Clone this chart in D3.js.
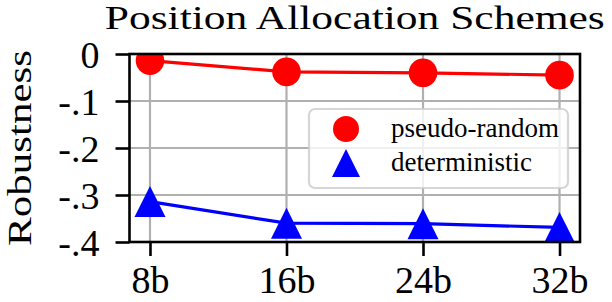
<!DOCTYPE html>
<html>
<head>
<meta charset="utf-8">
<script src="https://cdn.jsdelivr.net/npm/d3@7"></script>
<style>
  body { margin: 0; background: #fff; }
  text { font-family: "Liberation Serif", "Times New Roman", serif; fill: #000; }
</style>
</head>
<body>
<script>
  // data
  const categories = ['8b', '16b', '24b', '32b'];
  const pseudoRandom = [-0.014, -0.038, -0.040, -0.045];
  const deterministic = [-0.314, -0.360, -0.361, -0.369];
  const yTicks = [0, -0.1, -0.2, -0.3, -0.4];
  const yTickLabels = ['0', '-.1', '-.2', '-.3', '-.4'];

  const series = [
    { name: 'pseudo-random', values: pseudoRandom, color: '#ff0000', marker: 'circle' },
    { name: 'deterministic', values: deterministic, color: '#0000ff', marker: 'triangle' }
  ];

  const W = 612, H = 302;
  const margin = { top: 54, right: 32, bottom: 60, left: 129.5 };
  const width = W - margin.left - margin.right;
  const height = H - margin.top - margin.bottom;

  const svg = d3.select('body').append('svg')
    .attr('width', W)
    .attr('height', H);

  const g = svg.append('g')
    .attr('transform', `translate(${margin.left},${margin.top})`);

  const x = d3.scalePoint()
    .domain(categories)
    .range([0, width])
    .padding(0.15);

  const y = d3.scaleLinear()
    .domain([-0.4, 0])
    .range([height, 0]);

  // stretch a text to a target width (the original font is wider than Times)
  function fit(sel, w) {
    sel.attr('textLength', w).attr('lengthAdjust', 'spacingAndGlyphs');
  }

  // title
  svg.append('text')
    .attr('x', margin.left + width / 2)
    .attr('y', 29)
    .attr('text-anchor', 'middle')
    .attr('font-size', 34)
    .text('Position Allocation Schemes')
    .call(fit, 500);

  // grid lines
  g.append('g')
    .selectAll('line')
    .data(yTicks)
    .join('line')
      .attr('x1', 0).attr('x2', width)
      .attr('y1', d => y(d)).attr('y2', d => y(d))
      .attr('stroke', '#b0b0b0')
      .attr('stroke-width', 2.2);

  g.append('g')
    .selectAll('line')
    .data(categories)
    .join('line')
      .attr('x1', d => x(d)).attr('x2', d => x(d))
      .attr('y1', 0).attr('y2', height)
      .attr('stroke', '#b0b0b0')
      .attr('stroke-width', 2.2);

  // clip for data marks
  svg.append('defs').append('clipPath')
    .attr('id', 'plot-clip')
    .append('rect')
      .attr('width', width)
      .attr('height', height);

  const marks = g.append('g').attr('clip-path', 'url(#plot-clip)');

  const line = d3.line()
    .x((d, i) => x(categories[i]))
    .y(d => y(d));

  function triangle(s) {
    return `M0,${-s}L${s},${s}L${-s},${s}Z`;
  }

  series.forEach(s => {
    marks.append('path')
      .datum(s.values)
      .attr('d', line)
      .attr('fill', 'none')
      .attr('stroke', s.color)
      .attr('stroke-width', 3.2);

    const pts = marks.append('g')
      .selectAll('path')
      .data(s.values)
      .join('path')
        .attr('transform', (d, i) => `translate(${x(categories[i])},${y(d)})`)
        .attr('fill', s.color);

    if (s.marker === 'circle') {
      pts.attr('d', d3.symbol(d3.symbolCircle, Math.PI * 14.3 * 14.3)());
    } else {
      pts.attr('d', triangle(15.5));
    }
  });

  // frame
  g.append('rect')
    .attr('width', width)
    .attr('height', height)
    .attr('fill', 'none')
    .attr('stroke', '#000')
    .attr('stroke-width', 2.6);

  // axes
  const yAxis = g.append('g')
    .call(d3.axisLeft(y)
      .tickValues(yTicks)
      .tickFormat((d, i) => yTickLabels[i])
      .tickSize(14)
      .tickPadding(16));

  const xAxis = g.append('g')
    .attr('transform', `translate(0,${height})`)
    .call(d3.axisBottom(x)
      .tickSize(14)
      .tickPadding(8));

  [yAxis, xAxis].forEach(a => {
    a.select('.domain').remove();
    a.selectAll('line').attr('stroke', '#000').attr('stroke-width', 2.6);
    a.selectAll('text')
      .attr('font-family', '"Liberation Serif", serif')
      .attr('font-size', 38)
      .attr('fill', '#000');
  });
  yAxis.selectAll('text').attr('dy', '0.36em');
  xAxis.selectAll('text').attr('dy', '0.76em');

  // y label
  svg.append('text')
    .attr('transform', `translate(31,${margin.top + height / 2}) rotate(-90)`)
    .attr('text-anchor', 'middle')
    .attr('font-size', 34)
    .text('Robustness')
    .call(fit, 196);

  // legend
  const legend = svg.append('g')
    .attr('transform', 'translate(309,109)');

  legend.append('rect')
    .attr('width', 259)
    .attr('height', 79)
    .attr('rx', 6)
    .attr('fill', '#fff')
    .attr('fill-opacity', 0.8)
    .attr('stroke', '#cccccc')
    .attr('stroke-opacity', 0.8)
    .attr('stroke-width', 2.2);

  series.forEach((s, i) => {
    const row = legend.append('g')
      .attr('transform', `translate(37,${20 + i * 34})`);
    if (s.marker === 'circle') {
      row.append('circle').attr('r', 13).attr('fill', s.color);
    } else {
      row.append('path').attr('d', triangle(14)).attr('fill', s.color);
    }
    row.append('text')
      .attr('x', 45)
      .attr('y', 8)
      .attr('font-size', 27)
      .text(s.name);
  });
</script>
</body>
</html>
